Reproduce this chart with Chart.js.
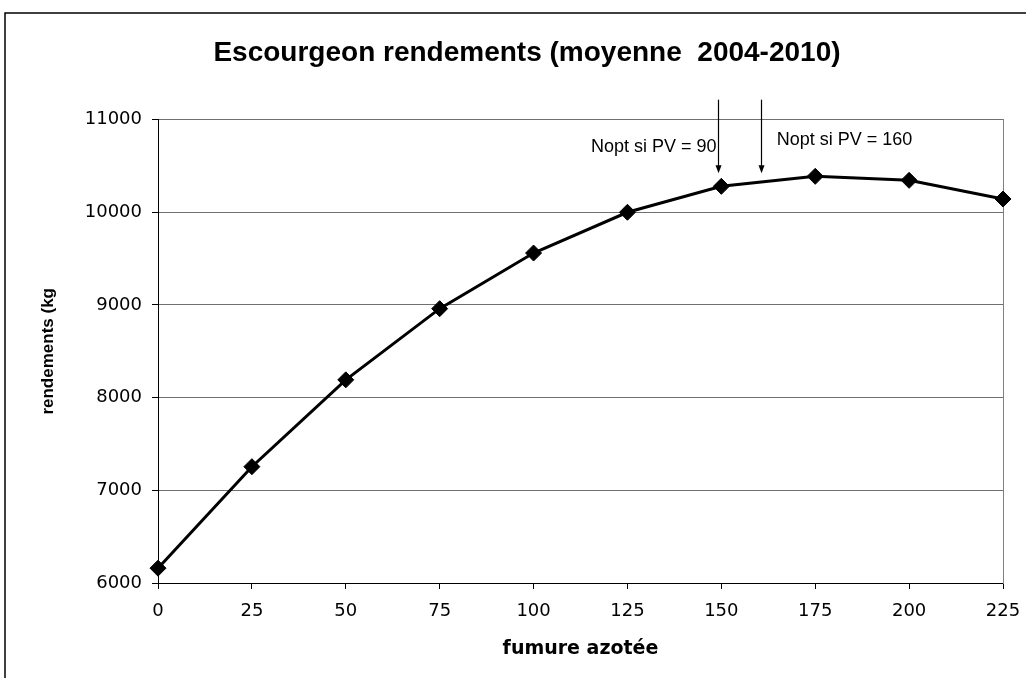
<!DOCTYPE html>
<html>
<head>
<meta charset="utf-8">
<script src="https://cdn.jsdelivr.net/npm/chart.js@4.4.0/dist/chart.umd.min.js"></script>
<style>
  html, body { margin: 0; padding: 0; background: #ffffff; }
  #wrap { width: 1026px; height: 678px; }
</style>
</head>
<body>
<div id="wrap"><canvas id="chart" width="1026" height="678"></canvas></div>
<script>
// Nitrogen rate (kg N/ha) and mean winter barley yield, 2004-2010
const nitrogenRates = [0, 25, 50, 75, 100, 125, 150, 175, 200, 225];
const meanYields = [6160, 7255, 8192, 8960, 9560, 10000, 10280, 10388, 10345, 10143];

// Optimal nitrogen rate for two price ratios, with their captions
const optimumRates = [149, 160.5];
const optimumLabels = ['Nopt si PV = 90', 'Nopt si PV = 160'];

const chartTitle = 'Escourgeon rendements (moyenne  2004-2010)';
const xAxisTitle = 'fumure azotée';
const yAxisTitle = 'rendements (kg';

const points = nitrogenRates.map((n, i) => ({ x: n, y: meanYields[i] }));

// White background and the outer frame of the chart object
const framePlugin = {
  id: 'frame',
  beforeDraw(chart) {
    const ctx = chart.ctx;
    ctx.save();
    ctx.fillStyle = '#ffffff';
    ctx.fillRect(0, 0, chart.width, chart.height);
    ctx.strokeStyle = '#000000';
    ctx.lineWidth = 1.5;
    ctx.beginPath();
    ctx.moveTo(5, chart.height + 5);
    ctx.lineTo(5, 13);
    ctx.lineTo(chart.width + 5, 13);
    ctx.stroke();
    ctx.restore();
  }
};

// Vertical arrows pointing at the optimum rates, with their captions
const optimumPlugin = {
  id: 'optimum',
  afterDatasetsDraw(chart) {
    const { ctx, scales: { x, y } } = chart;
    const yTop = y.getPixelForValue(11215);
    const yTip = y.getPixelForValue(10420);
    ctx.save();
    ctx.strokeStyle = '#000000';
    ctx.fillStyle = '#000000';
    ctx.lineWidth = 1.2;
    optimumRates.forEach((n) => {
      const px = Math.round(x.getPixelForValue(n)) + 0.5;
      ctx.beginPath();
      ctx.moveTo(px, yTop);
      ctx.lineTo(px, yTip - 6);
      ctx.stroke();
      ctx.beginPath();
      ctx.moveTo(px - 3, yTip - 8);
      ctx.lineTo(px + 3, yTip - 8);
      ctx.lineTo(px, yTip);
      ctx.closePath();
      ctx.fill();
    });
    ctx.font = '18px "Liberation Sans", Arial, sans-serif';
    ctx.textBaseline = 'middle';
    const p1 = x.getPixelForValue(optimumRates[0]);
    const p2 = x.getPixelForValue(optimumRates[1]);
    ctx.textAlign = 'right';
    ctx.fillText(optimumLabels[0], p1 - 1, y.getPixelForValue(10700));
    ctx.textAlign = 'left';
    ctx.fillText(optimumLabels[1], p2 + 16, y.getPixelForValue(10775));
    ctx.restore();
  }
};

new Chart(document.getElementById('chart'), {
  type: 'scatter',
  data: {
    datasets: [{
      data: points,
      showLine: true,
      borderColor: '#000000',
      borderWidth: 3,
      tension: 0,
      pointStyle: 'rectRot',
      pointRadius: 8,
      pointBorderWidth: 1,
      pointBackgroundColor: '#000000',
      pointBorderColor: '#000000',
      pointHoverRadius: 8,
      clip: false
    }]
  },
  options: {
    responsive: false,
    animation: false,
    events: [],
    layout: { padding: { left: 28, right: 0, top: 0, bottom: 0 } },
    plugins: {
      legend: { display: false },
      tooltip: { enabled: false },
      title: {
        display: true,
        text: chartTitle,
        color: '#000000',
        font: { family: '"Liberation Sans", Arial, sans-serif', size: 28, weight: 'bold', lineHeight: 1.2 },
        padding: { top: 36, bottom: 50 }
      }
    },
    scales: {
      x: {
        type: 'linear',
        position: 'bottom',
        min: 0,
        max: 225,
        afterFit(scale) {
          scale.height = 95;
          scale.paddingLeft = 0;
          scale.paddingRight = 0;
        },
        ticks: {
          stepSize: 25,
          color: '#000000',
          padding: 12,
          font: { family: '"DejaVu Sans", sans-serif', size: 18 },
          callback: v => String(v)
        },
        grid: {
          drawOnChartArea: false,
          drawTicks: true,
          tickLength: 6,
          tickColor: '#000000',
          tickWidth: 1
        },
        border: { display: true, color: '#000000', width: 1 },
        title: {
          display: true,
          text: xAxisTitle,
          color: '#000000',
          font: { family: '"DejaVu Sans", sans-serif', size: 19, weight: 'bold', lineHeight: 1.2 },
          padding: { top: 0, bottom: 18 }
        }
      },
      y: {
        type: 'linear',
        position: 'left',
        min: 6000,
        max: 11000,
        afterFit(scale) { scale.width = 130; },
        ticks: {
          stepSize: 1000,
          color: '#000000',
          padding: 10,
          font: { family: '"DejaVu Sans", sans-serif', size: 18 },
          callback: v => String(v)
        },
        grid: {
          color: '#707070',
          lineWidth: 1,
          drawTicks: true,
          tickLength: 6,
          tickColor: '#000000'
        },
        border: { display: true, color: '#000000', width: 1 },
        title: {
          display: true,
          text: yAxisTitle,
          color: '#000000',
          font: { family: '"Liberation Sans", Arial, sans-serif', size: 17, weight: 'bold', lineHeight: 1.2 },
          padding: { top: 10, bottom: 0 }
        }
      },
      yRight: {
        type: 'linear',
        axis: 'y',
        position: 'right',
        min: 6000,
        max: 11000,
        afterFit(scale) { scale.width = 23; },
        ticks: { display: false },
        grid: { display: false, drawTicks: false },
        border: { display: true, color: '#808080', width: 1 },
        title: { display: false }
      }
    }
  },
  plugins: [framePlugin, optimumPlugin]
});
</script>
</body>
</html>
